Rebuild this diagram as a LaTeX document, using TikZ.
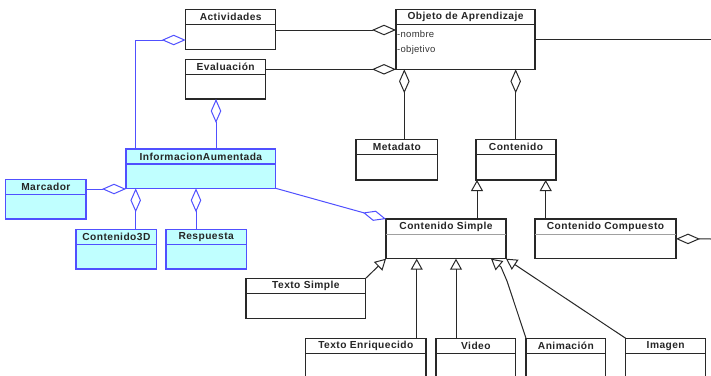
\documentclass[tikz,border=0pt]{standalone}
\usepackage{fontspec}
\setmainfont{Liberation Sans}
\usetikzlibrary{arrows.meta,fit}
\definecolor{linegray}{RGB}{40,40,40}
\definecolor{umlblue}{RGB}{80,80,255}
\definecolor{umlcyan}{RGB}{192,255,255}
\definecolor{divgray}{RGB}{160,160,160}
\tikzset{
  cls/.style={draw=linegray, line width=1.2pt, fill=white, rectangle, inner sep=0pt, outer sep=0pt},
  clsblue/.style={cls, draw=umlblue, fill=umlcyan},
  divline/.style={draw=linegray, line width=1.1pt},
  divblue/.style={draw=umlblue, line width=1.1pt},
  divlight/.style={draw=divgray, line width=0.9pt},
  clstitle/.style={font=\bfseries\fontsize{10.2}{12}\selectfont\addfontfeatures{LetterSpace=4.5}, inner sep=0pt, text=black!85},
  attr/.style={font=\fontsize{9.5}{11}\selectfont\addfontfeatures{LetterSpace=3}, inner sep=0pt, anchor=west, text=black!80},
  assoc/.style={draw=linegray, line width=1pt},
  agg/.style={assoc, -{Diamond[open, length=24pt, width=10.5pt, line width=1pt]}},
  aggblue/.style={agg, draw=umlblue},
  gen/.style={assoc, -{Triangle[open, length=11pt, width=12pt, line width=1pt]}},
}
% #1 name, #2 box style, #3 divider style, #4 x1, #5 y1, #6 x2, #7 y2, #8 title
\newcommand\umlcls[8]{%
  \node[#2, fit={(#4,#5) (#6,#7)}] (#1) {};
  \draw[#3] ([yshift=-15pt]#1.north west) -- ([yshift=-15pt]#1.north east);
  \node[clstitle] (#1-t) at ([yshift=-7.6pt]#1.north) {#8};
}
\begin{document}
\begin{tikzpicture}[x=1pt,y=-1pt]
\useasboundingbox (0,0) rectangle (711,375);
\fill[white] (0,0) rectangle (711,375);
\clip (0,0) rectangle (711,375);

% classes
\umlcls{act}{cls}{divline}{185.7}{9.3}{275.7}{49.3}{Actividades}
\umlcls{eval}{cls}{divline}{185.7}{59.3}{265.7}{99}{Evaluación}
\umlcls{obj}{cls}{divline}{396}{9.3}{535}{69.3}{Objeto de Aprendizaje}
\node[attr] (obj-a1) at (397,34.3) {-nombre};
\node[attr] (obj-a2) at (397,50) {-objetivo};
\umlcls{meta}{cls}{divline}{356}{139.3}{437.7}{180}{Metadato}
\umlcls{cont}{cls}{divline}{476}{139.3}{556}{180}{Contenido}
\umlcls{ia}{clsblue}{divblue}{126}{149}{275.7}{188.3}{InformacionAumentada}
\umlcls{marc}{clsblue}{divblue}{5.7}{179.3}{86}{219}{Marcador}
\umlcls{c3d}{clsblue}{divblue}{76}{229.3}{156.7}{269}{Contenido3D}
\umlcls{resp}{clsblue}{divblue}{166}{229.3}{246.3}{269}{Respuesta}
\umlcls{cs}{cls}{divlight}{386}{219}{506}{258.7}{Contenido Simple}
\umlcls{cc}{cls}{divlight}{535}{219}{676}{258.7}{Contenido Compuesto}
\umlcls{ts}{cls}{divline}{246}{278.3}{365.7}{318.3}{Texto Simple}
\umlcls{te}{cls}{divline}{305.7}{338.3}{426}{385}{Texto Enriquecido}
\umlcls{vid}{cls}{divline}{436}{338.3}{515.7}{385}{Video}
\umlcls{anim}{cls}{divline}{526}{338.3}{605.7}{385}{Animación}
\umlcls{img}{cls}{divline}{625.7}{338.3}{705.7}{385}{Imagen}

% free ends
\coordinate (objR) at (712,39.3);
\coordinate (ccR) at (712,239);

% black associations / aggregations
\draw[agg] (act.east |- 0,30) -- (obj.west |- 0,30);
\draw[agg] (eval.east |- obj.south west) -- (obj.south west);
\draw[assoc] (obj.east) -- (objR);
\draw[agg] (meta.north -| 404.3,0) -- (obj.south -| 404.3,0);
\draw[agg] (cont.north -| 515.7,0) -- (obj.south -| 515.7,0);
\draw[agg] (ccR) -- (cc.east);

% blue aggregations
\draw[aggblue] (ia.north -| 135.7,0) |- (act.west |- 0,40);
\draw[aggblue] (ia.north -| 216,0) -- (eval.south -| 216,0);
\draw[aggblue] (marc.east |- 0,189) -- (ia.west |- 0,189);
\draw[aggblue] (c3d.north -| 135.7,0) -- (ia.south -| 135.7,0);
\draw[aggblue] (resp.north -| 196,0) -- (ia.south -| 196,0);
\draw[aggblue] (ia.south east) -- (cs.north west);

% generalizations
\draw[gen] (cs.north -| 477,0) -- (cont.south -| 477,0);
\draw[gen] (cc.north -| 545.7,0) -- (cont.south -| 545.7,0);
\draw[gen] (ts.north east) -- (cs.south west);
\draw[gen] (te.north -| 416.7,0) -- (cs.south -| 416.7,0);
\draw[gen] (vid.north -| 456,0) -- (cs.south -| 456,0);
\draw[gen] (anim.north west) -- (507,281) -- (501,267) -- (cs.south -| 491,0);
\draw[gen] (img.north west) -- (cs.south east);
\end{tikzpicture}
\end{document}
